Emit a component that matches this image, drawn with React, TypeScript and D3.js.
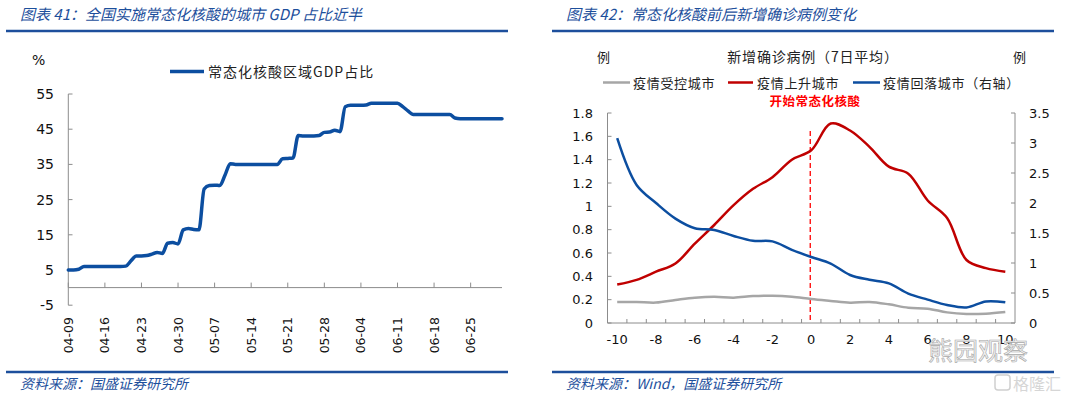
import React from 'react';
import * as d3 from 'd3';

// chart 41: share of GDP in cities with routine testing (daily, from 04-09)
const gdpStart = new Date(2022, 3, 9);
const gdpEnd = new Date(2022, 6, 1);
const gdpShare = [
  5.0, 5.0, 5.2, 6.0, 6.0, 6.0, 6.0, 6.0, 6.0, 6.0, 6.0, 6.1, 7.6, 9.0, 9.0, 9.1,
  9.5, 10.0, 9.7, 12.6, 12.8, 12.4, 16.4, 16.8, 16.5, 16.4, 28.0, 29.0, 29.1, 29.0,
  32.0, 35.2, 35.0, 35.0, 35.0, 35.0, 35.0, 35.0, 35.0, 35.0, 35.0, 36.6, 36.7, 36.8,
  43.2, 43.1, 43.1, 43.1, 43.2, 44.1, 44.2, 44.7, 44.3, 51.4, 51.8, 51.8, 51.8, 51.9,
  52.4, 52.4, 52.4, 52.4, 52.4, 52.4, 51.4, 50.2, 49.2, 49.2, 49.2, 49.2, 49.2, 49.2,
  49.2, 49.2, 48.2, 48.0, 48.0, 48.0, 48.0, 48.0, 48.0, 48.0, 48.0, 48.0,
];
const gdpTickLabels = [
  '04-09', '04-16', '04-23', '04-30', '05-07', '05-14',
  '05-21', '05-28', '06-04', '06-11', '06-18', '06-25',
];
const gdpYTicks = [55, 45, 35, 25, 15, 5, -5];

// chart 42: new cases (7-day avg) around the start of routine testing
const dayOffsets = [-10, -9, -8, -7, -6, -5, -4, -3, -2, -1, 0, 1, 2, 3, 4, 5, 6, 7, 8, 9, 10];
const controlled = [0.18, 0.18, 0.175, 0.197, 0.217, 0.225, 0.217, 0.231, 0.234, 0.225, 0.205,
  0.189, 0.174, 0.18, 0.16, 0.131, 0.123, 0.091, 0.077, 0.08, 0.094];
const rising = [0.33, 0.37, 0.44, 0.51, 0.68, 0.84, 1.01, 1.15, 1.25, 1.4, 1.48,
  1.71, 1.65, 1.51, 1.34, 1.28, 1.05, 0.9, 0.54, 0.47, 0.44];
const falling = [3.08, 2.3, 2.0, 1.74, 1.58, 1.55, 1.45, 1.37, 1.36, 1.22, 1.1,
  0.99, 0.8, 0.72, 0.66, 0.49, 0.39, 0.3, 0.26, 0.36, 0.345];
const leftTicks = [0, 0.2, 0.4, 0.6, 0.8, 1, 1.2, 1.4, 1.6, 1.8];
const rightTicks = [0, 0.5, 1, 1.5, 2, 2.5, 3, 3.5];
const xLabelDays = [-10, -8, -6, -4, -2, 0, 2, 4, 6, 8, 10];

const BLUE = '#0c4ea0';
const TITLE_BLUE = '#1d4f9c';
const RED = '#c00000';
const GREY = '#a6a6a6';
const AXIS = '#8c8c8c';
const NUM_FONT = '"DejaVu Sans", Verdana, sans-serif';
const CJK_FONT = '"Noto Sans CJK SC", "Noto Sans", sans-serif';

const parseMD = (s: string) => {
  const [m, d] = s.split('-').map(Number);
  return new Date(2022, m - 1, d);
};

const fmt = (v: number) => String(Math.round(v * 10) / 10);

function Frame({ x0, x1, title, source }: { x0: number; x1: number; title: string; source: string }) {
  return (
    <g>
      <text x={x0 + 14} y={20} fontFamily={CJK_FONT} fontSize={15} fontStyle="italic" fill={TITLE_BLUE}>
        {title}
      </text>
      <line x1={x0} x2={x1} y1={31} y2={31} stroke={TITLE_BLUE} strokeWidth={2.5} />
      <line x1={x0} x2={x1} y1={372} y2={372} stroke={TITLE_BLUE} strokeWidth={2.5} />
      <text x={x0 + 14} y={389} fontFamily={CJK_FONT} fontSize={14} fontStyle="italic" fill={TITLE_BLUE}>
        {source}
      </text>
    </g>
  );
}

function GdpChart() {
  const x = d3.scaleTime().domain([gdpStart, gdpEnd]).range([68.3, 502]);
  const y = d3.scaleLinear().domain([-5, 55]).range([305.2, 94]);
  const pts = gdpShare.map((v, i) => [x(d3.timeDay.offset(gdpStart, i)), y(v)] as [number, number]);
  const line = d3.line().curve(d3.curveMonotoneX)(pts) || '';
  const y0 = y(0);
  return (
    <g>
      <Frame x0={6} x1={508} title="图表 41：全国实施常态化核酸的城市 GDP 占比近半" source="资料来源：国盛证券研究所" />
      <text x={32} y={65} fontFamily={NUM_FONT} fontSize={14} fill="#111">%</text>
      {/* legend */}
      <line x1={170} x2={204} y1={71.5} y2={71.5} stroke={BLUE} strokeWidth={3.5} />
      <text x={208} y={77} fontFamily={CJK_FONT} fontSize={14} letterSpacing={1} fill="#222">常态化核酸区域GDP占比</text>
      {/* y axis */}
      <line x1={x.range()[0]} x2={x.range()[0]} y1={y(55)} y2={y(-5)} stroke={AXIS} />
      {gdpYTicks.map((t) => (
        <g key={t}>
          <line x1={68.3} x2={72.5} y1={y(t)} y2={y(t)} stroke={AXIS} />
          <text x={54} y={y(t)} dy="0.36em" textAnchor="end" fontFamily={NUM_FONT} fontSize={14} fill="#111">
            {t}
          </text>
        </g>
      ))}
      {/* x axis */}
      <line x1={68.3} x2={502} y1={y0} y2={y0} stroke={AXIS} />
      {gdpTickLabels.map((lab) => {
        const tx = x(parseMD(lab));
        return (
          <g key={lab}>
            <line x1={tx} x2={tx} y1={y0} y2={y0 - 5} stroke={AXIS} />
            <text
              transform={`translate(${tx},317) rotate(-90)`}
              dy="0.36em"
              textAnchor="end"
              fontFamily={NUM_FONT}
              fontSize={12.5}
              fill="#111"
            >
              {lab}
            </text>
          </g>
        );
      })}
      <path d={line} fill="none" stroke={BLUE} strokeWidth={3.5} strokeLinejoin="round" strokeLinecap="round" />
    </g>
  );
}

function CasesChart() {
  const x = d3.scaleBand<number>().domain(dayOffsets).range([607.5, 1015]).padding(0);
  const bw = x.bandwidth();
  const cx = (d: number) => (x(d) as number) + bw / 2;
  const yL = d3.scaleLinear().domain([0, 1.8]).range([323, 113]);
  const yR = d3.scaleLinear().domain([0, 3.5]).range([323, 113]);
  const mk = (vals: number[], sc: d3.ScaleLinear<number, number>) =>
    d3
      .line<number>()
      .x((_, i) => cx(dayOffsets[i]))
      .y((v) => sc(v))
      .curve(d3.curveCatmullRom.alpha(0.5))(vals) || '';
  const boundaries = d3.range(dayOffsets.length + 1).map((i) => 607.5 + i * bw);
  const zeroX = cx(0) - 1;
  return (
    <g>
      <Frame x0={552} x1={1054} title="图表 42：常态化核酸前后新增确诊病例变化" source="资料来源：Wind，国盛证券研究所" />
      <text x={597} y={62} fontFamily={CJK_FONT} fontSize={13} fill="#222">例</text>
      <text x={1013} y={62} fontFamily={CJK_FONT} fontSize={13} fill="#222">例</text>
      <text x={813} y={62} textAnchor="middle" fontFamily={CJK_FONT} fontSize={14} letterSpacing={0.8} fill="#222">
        新增确诊病例（7日平均）
      </text>
      {/* legend */}
      <line x1={603} x2={630} y1={82.5} y2={82.5} stroke={GREY} strokeWidth={2.5} />
      <text x={633} y={88} fontFamily={CJK_FONT} fontSize={13} letterSpacing={0.7} fill="#222">疫情受控城市</text>
      <line x1={728} x2={753} y1={82.5} y2={82.5} stroke={RED} strokeWidth={2.5} />
      <text x={757} y={88} fontFamily={CJK_FONT} fontSize={13} letterSpacing={0.7} fill="#222">疫情上升城市</text>
      <line x1={853} x2={880} y1={82.5} y2={82.5} stroke={BLUE} strokeWidth={2.5} />
      <text x={883} y={88} fontFamily={CJK_FONT} fontSize={13} letterSpacing={0.7} fill="#222">疫情回落城市（右轴）</text>
      <text x={815} y={106} textAnchor="middle" fontFamily={CJK_FONT} fontSize={12.5} fontWeight="bold" letterSpacing={0.5} fill="#ff0000">
        开始常态化核酸
      </text>
      {/* axes */}
      <line x1={607.5} x2={607.5} y1={113} y2={323} stroke={AXIS} />
      <line x1={1015} x2={1015} y1={113} y2={323} stroke={AXIS} />
      <line x1={607.5} x2={1015} y1={323} y2={323} stroke={AXIS} />
      {leftTicks.map((t) => (
        <g key={'l' + t}>
          <line x1={607.5} x2={611.5} y1={yL(t)} y2={yL(t)} stroke={AXIS} />
          <text x={593} y={yL(t)} dy="0.36em" textAnchor="end" fontFamily={NUM_FONT} fontSize={13} fill="#111">
            {fmt(t)}
          </text>
        </g>
      ))}
      {rightTicks.map((t) => (
        <g key={'r' + t}>
          <line x1={1011} x2={1015} y1={yR(t)} y2={yR(t)} stroke={AXIS} />
          <text x={1029} y={yR(t)} dy="0.36em" fontFamily={NUM_FONT} fontSize={13} fill="#111">
            {fmt(t)}
          </text>
        </g>
      ))}
      {boundaries.slice(1, -1).map((bx, i) => (
        <line key={'b' + i} x1={bx} x2={bx} y1={323} y2={319} stroke={AXIS} />
      ))}
      {xLabelDays.map((d) => (
        <text key={'x' + d} x={cx(d)} y={344} textAnchor="middle" fontFamily={NUM_FONT} fontSize={13} fill="#111">
          {d}
        </text>
      ))}
      <line x1={zeroX} x2={zeroX} y1={131} y2={323} stroke="#ff0000" strokeWidth={1.3} strokeDasharray="5,3" />
      <path d={mk(controlled, yL)} fill="none" stroke={GREY} strokeWidth={2.5} />
      <path d={mk(rising, yL)} fill="none" stroke={RED} strokeWidth={2.5} />
      <path d={mk(falling, yR)} fill="none" stroke={BLUE} strokeWidth={2.5} />
      {/* watermarks */}
      <text x={928} y={360} fontFamily={CJK_FONT} fontSize={25} fill="#f2f2f2" stroke="#a8a8a8" strokeWidth={0.6}>
        熊园观察
      </text>
      <rect x={995} y={375} width={15} height={15} rx={3} fill="none" stroke="#d0d0d0" strokeWidth={1.5} />
      <text x={1013} y={390} fontFamily={CJK_FONT} fontSize={16} fill="#d6d6d6">
        格隆汇
      </text>
    </g>
  );
}

export default function App() {
  return (
    <svg
      width={1080}
      height={398}
      viewBox="0 0 1080 398"
      style={{ position: 'absolute', left: 0, top: 0, background: '#fff' }}
    >
      <rect width={1080} height={398} fill="#fff" />
      <GdpChart />
      <CasesChart />
    </svg>
  );
}
